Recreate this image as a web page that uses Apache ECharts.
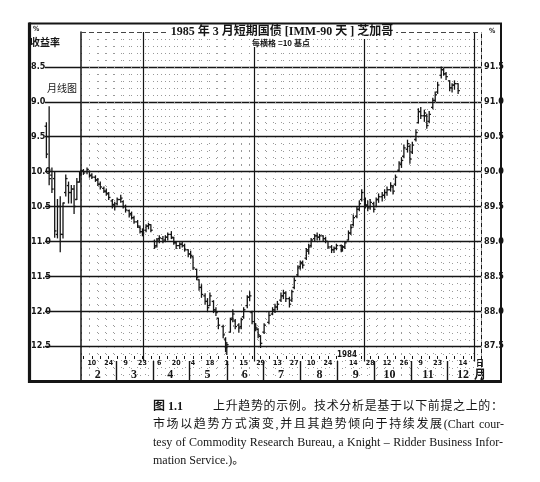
<!DOCTYPE html>
<html><head><meta charset="utf-8">
<script src="https://cdn.jsdelivr.net/npm/echarts@6/dist/echarts.min.js"></script>
<style>html,body{margin:0;padding:0;background:#fff}#c{width:540px;height:482px}</style>
</head><body><div id="c"></div>
<script>
// ---------- DATA (yield %, IMM index = 100 - yield) ----------
const monthlyLabels = ['1983-01','1983-02','1983-03','1983-04','1983-05','1983-06','1983-07','1983-08','1983-09','1983-10','1983-11','1983-12','1984-01'];
const monthlyOpen  = [9.35, 9.50, 10.05, 10.10, 10.90, 10.50, 10.90, 10.30, 10.20, 10.30, 10.25, 10.40, 10.15];
const monthlyLow   = [9.30, 9.07, 9.95, 10.00, 10.40, 10.36, 10.45, 10.05, 10.15, 10.20, 10.20, 10.10, 10.00];
const monthlyHigh  = [9.80, 10.19, 10.30, 10.94, 10.95, 11.15, 10.95, 10.35, 10.45, 10.45, 10.60, 10.40, 10.15];
const monthlyClose = [9.75, 10.10, 10.25, 10.85, 10.50, 10.90, 10.45, 10.10, 10.30, 10.25, 10.50, 10.15, 10.05];

const dailyDates = [
 '1984-02-01','1984-02-03','1984-02-06','1984-02-08','1984-02-10','1984-02-13','1984-02-15','1984-02-17','1984-02-20','1984-02-22','1984-02-24','1984-02-27','1984-02-29',
 '1984-03-02','1984-03-05','1984-03-07','1984-03-09','1984-03-12','1984-03-14','1984-03-16','1984-03-19','1984-03-21','1984-03-23','1984-03-26','1984-03-28','1984-03-30',
 '1984-04-02','1984-04-04','1984-04-06','1984-04-09','1984-04-11','1984-04-13','1984-04-16','1984-04-18','1984-04-20','1984-04-23','1984-04-25','1984-04-27','1984-04-30',
 '1984-05-02','1984-05-04','1984-05-07','1984-05-09','1984-05-11','1984-05-14','1984-05-16','1984-05-18','1984-05-21','1984-05-23','1984-05-25','1984-05-29','1984-05-31',
 '1984-06-01','1984-06-04','1984-06-06','1984-06-08','1984-06-11','1984-06-13','1984-06-15','1984-06-18','1984-06-20','1984-06-22','1984-06-25','1984-06-27','1984-06-29',
 '1984-07-02','1984-07-06','1984-07-09','1984-07-11','1984-07-13','1984-07-16','1984-07-18','1984-07-20','1984-07-23','1984-07-25','1984-07-27','1984-07-30',
 '1984-08-01','1984-08-03','1984-08-06','1984-08-08','1984-08-10','1984-08-13','1984-08-15','1984-08-17','1984-08-20','1984-08-22','1984-08-24','1984-08-27','1984-08-29','1984-08-31',
 '1984-09-04','1984-09-05','1984-09-07','1984-09-10','1984-09-12','1984-09-14','1984-09-17','1984-09-19','1984-09-21','1984-09-24','1984-09-26','1984-09-28',
 '1984-10-01','1984-10-03','1984-10-05','1984-10-08','1984-10-10','1984-10-12','1984-10-15','1984-10-17','1984-10-19','1984-10-22','1984-10-24','1984-10-26','1984-10-29','1984-10-31',
 '1984-11-02','1984-11-05','1984-11-07','1984-11-09','1984-11-12','1984-11-14','1984-11-16','1984-11-19','1984-11-21','1984-11-23','1984-11-26','1984-11-28','1984-11-30',
 '1984-12-03','1984-12-05','1984-12-07','1984-12-10'
];
const dailyOpen = [
 10.03,9.99,10.00,10.00,10.05,10.08,10.12,10.18,10.24,10.28,10.32,10.42,10.47,
 10.46,10.40,10.43,10.50,10.56,10.60,10.66,10.72,10.80,10.86,10.84,10.78,10.76,
 11.00,11.06,10.96,10.96,10.98,10.94,10.90,10.95,11.02,11.06,11.04,11.06,11.12,
 11.18,11.22,11.40,11.55,11.66,11.78,11.86,11.92,11.86,11.98,12.10,12.22,12.40,
 12.52,12.30,12.10,12.14,12.20,12.22,12.08,11.92,11.80,12.02,12.18,12.26,12.36,
 12.30,12.16,12.04,11.98,11.94,11.84,11.78,11.74,11.82,11.84,11.66,11.48,
 11.36,11.30,11.24,11.14,11.06,10.96,10.92,10.94,10.92,10.96,11.00,11.08,11.12,11.10,
 11.06,11.12,11.08,10.98,10.88,10.76,10.64,10.54,10.40,10.40,10.48,10.50,
 10.46,10.50,10.40,10.36,10.34,10.30,10.26,10.22,10.18,9.98,9.90,9.78,9.68,9.64,
 9.72,9.54,9.30,9.14,9.20,9.20,9.28,9.08,8.98,8.86,8.62,8.54,8.60,
 8.70,8.80,8.76,8.74
];
const dailyLow = [
 9.98,9.97,9.95,9.99,10.03,10.06,10.10,10.15,10.22,10.25,10.30,10.40,10.44,
 10.38,10.34,10.42,10.48,10.55,10.58,10.64,10.70,10.78,10.82,10.76,10.74,10.76,
 10.98,10.96,10.92,10.93,10.92,10.88,10.86,10.94,11.00,11.02,11.00,11.04,11.12,
 11.14,11.22,11.40,11.55,11.62,11.75,11.82,11.74,11.85,11.95,12.10,12.20,12.38,
 12.45,12.10,11.98,12.12,12.18,12.10,11.95,11.78,11.72,12.00,12.18,12.25,12.35,
 12.18,12.02,11.95,11.90,11.86,11.74,11.70,11.72,11.80,11.70,11.52,11.35,
 11.28,11.28,11.10,11.04,10.96,10.90,10.88,10.90,10.92,10.94,11.00,11.06,11.08,11.04,
 11.05,11.06,11.00,10.85,10.76,10.62,10.50,10.42,10.26,10.38,10.42,10.40,
 10.44,10.38,10.32,10.30,10.26,10.22,10.16,10.20,10.05,9.86,9.80,9.62,9.55,9.62,
 9.58,9.40,9.10,9.08,9.12,9.18,9.14,8.95,8.86,8.72,8.50,8.52,8.58,
 8.70,8.74,8.70,8.74
];
const dailyHigh = [
 10.05,10.04,10.03,10.08,10.10,10.14,10.20,10.25,10.30,10.34,10.40,10.52,10.55,
 10.48,10.44,10.52,10.58,10.65,10.68,10.74,10.80,10.88,10.92,10.86,10.82,10.86,
 11.10,11.08,11.02,11.02,11.00,10.98,10.96,11.04,11.10,11.10,11.08,11.14,11.22,
 11.24,11.40,11.55,11.70,11.80,11.90,12.00,11.92,12.02,12.06,12.25,12.38,12.58,
 12.62,12.30,12.15,12.25,12.30,12.25,12.10,11.95,11.85,12.18,12.28,12.38,12.52,
 12.32,12.18,12.05,12.02,11.98,11.86,11.82,11.86,11.94,11.86,11.68,11.50,
 11.40,11.38,11.26,11.18,11.08,11.00,10.98,10.98,11.00,11.02,11.10,11.16,11.16,11.12,
 11.15,11.14,11.10,10.98,10.90,10.78,10.66,10.56,10.42,10.52,10.56,10.54,
 10.58,10.50,10.44,10.42,10.38,10.34,10.28,10.32,10.20,10.00,9.94,9.80,9.72,9.88,
 9.74,9.56,9.30,9.24,9.28,9.38,9.30,9.10,9.00,8.88,8.66,8.62,8.68,
 8.84,8.86,8.82,8.88
];
const dailyClose = [
 9.99,10.02,9.97,10.06,10.08,10.12,10.18,10.22,10.28,10.31,10.37,10.48,10.50,
 10.40,10.38,10.50,10.55,10.62,10.66,10.72,10.78,10.86,10.88,10.78,10.76,10.84,
 11.08,10.98,10.95,11.00,10.94,10.90,10.94,11.02,11.06,11.04,11.06,11.12,11.18,
 11.20,11.38,11.52,11.66,11.76,11.86,11.95,11.78,11.98,12.02,12.20,12.34,12.52,
 12.48,12.12,12.04,12.22,12.24,12.12,11.98,11.80,11.78,12.15,12.24,12.34,12.46,
 12.20,12.06,11.98,11.94,11.90,11.78,11.74,11.82,11.90,11.72,11.56,11.38,
 11.32,11.34,11.12,11.08,10.98,10.92,10.94,10.92,10.96,11.00,11.08,11.12,11.10,11.06,
 11.12,11.08,11.02,10.88,10.80,10.66,10.54,10.46,10.30,10.48,10.52,10.44,
 10.54,10.40,10.36,10.34,10.30,10.26,10.20,10.28,10.08,9.88,9.84,9.66,9.60,9.82,
 9.62,9.44,9.14,9.20,9.16,9.34,9.18,8.98,8.90,8.76,8.54,8.60,8.64,
 8.80,8.76,8.74,8.84
];

// axis labels
const yieldTicks = [8.5, 9.0, 9.5, 10.0, 10.5, 11.0, 11.5, 12.0, 12.5];
const priceTicks = [87.5, 88.0, 88.5, 89.0, 89.5, 90.0, 90.5, 91.0, 91.5];
const dayLabelDates = ['1984-02-10','1984-02-24','1984-03-09','1984-03-23','1984-04-06','1984-04-20','1984-05-04','1984-05-18',
  '1984-06-01','1984-06-15','1984-06-29','1984-07-13','1984-07-27','1984-08-10','1984-08-24','1984-09-14','1984-09-28',
  '1984-10-12','1984-10-26','1984-11-09','1984-11-23','1984-12-14'];
const monthStarts = ['1984-03-01','1984-04-01','1984-05-01','1984-06-01','1984-07-01','1984-08-01','1984-09-01','1984-10-01','1984-11-01','1984-12-01'];
const monthLabelDates = ['1984-02-15','1984-03-16','1984-04-15','1984-05-16','1984-06-16','1984-07-16','1984-08-17','1984-09-16','1984-10-14','1984-11-15','1984-12-14'];
const paperLines = ['1984-03-24','1984-06-24','1984-09-23','1984-12-23'];
const xMin = '1984-02-01', xMax = '1984-12-29';

// ---------- build ----------
const P = s => { const p = s.split('-').map(Number); return new Date(p[0], p[1] - 1, p[2]).getTime(); };
const dailyRows = dailyDates.map((d, i) => [P(d), dailyOpen[i], dailyLow[i], dailyHigh[i], dailyClose[i]]);
const monthlyRows = monthlyLabels.map((m, i) => [m, monthlyOpen[i], monthlyLow[i], monthlyHigh[i], monthlyClose[i]]);
const fridays = [];
for (let t = P('1984-02-03'); t <= P('1984-12-21'); t += 7 * 864e5) fridays.push(t);

const INK = '#151515';
const NUMFONT = '"Liberation Sans Narrow","DejaVu Sans Condensed","Liberation Sans",sans-serif';
const SERIF = '"Liberation Serif","Noto Sans CJK SC",serif';
const CJK = '"Noto Sans CJK SC","Liberation Serif",sans-serif';

function ohlc(params, api) {
  const x = api.value(0);
  const o = api.coord([x, api.value(1)]);
  const a = api.coord([x, api.value(2)]);
  const b = api.coord([x, api.value(3)]);
  const c = api.coord([x, api.value(4)]);
  const w = 1.8, st = { stroke: INK, lineWidth: 1.3 };
  return { type: 'group', children: [
    { type: 'line', shape: { x1: a[0], y1: a[1] - 0.5, x2: b[0], y2: b[1] + 0.5 }, style: st },
    { type: 'line', shape: { x1: o[0] - w, y1: o[1], x2: o[0], y2: o[1] }, style: st },
    { type: 'line', shape: { x1: c[0], y1: c[1], x2: c[0] + w, y2: c[1] }, style: st }
  ]};
}

// caption layout helper (justify tokens between x0 and x1)
const mctx = document.createElement('canvas').getContext('2d');
function tw(t, font) { mctx.font = font; return mctx.measureText(t).width; }
function justifyLine(tokens, x0, x1, y, font) {
  const sp = tw(' ', font);
  const ws = tokens.map(k => tw(k.t, font));
  let total = ws.reduce((a, b) => a + b, 0) + tokens.reduce((a, k, i) => a + (i > 0 && k.s ? sp : 0), 0);
  const extra = (x1 - x0 - total) / (tokens.length - 1);
  const els = []; let x = x0;
  tokens.forEach((k, i) => {
    if (i > 0) x += extra + (k.s ? sp : 0);
    els.push({ type: 'text', x: x, y: y, silent: true, style: { text: k.t, font: font, fill: INK, verticalAlign: 'middle' } });
    x += ws[i];
  });
  return els;
}
function cjkTokens(str) {
  const out = []; let buf = ''; let space = false;
  for (const ch of str) {
    if (ch === ' ') { if (buf) { out.push({ t: buf, s: space }); buf = ''; } space = true; continue; }
    if (/[\u3000-\u9fff\uff00-\uffef]/.test(ch)) {
      if (buf) { out.push({ t: buf, s: space }); buf = ''; space = false; }
      out.push({ t: ch, s: space }); space = false;
    } else { if (!buf) { buf = ch; } else buf += ch; }
  }
  if (buf) out.push({ t: buf, s: space });
  return out;
}
const capFont = '12px ' + SERIF;
const caption = [].concat(
  [{ type: 'text', x: 153, y: 407, silent: true, style: { text: '图 1.1', font: 'bold 12px ' + SERIF, fill: INK, verticalAlign: 'middle' } }],
  justifyLine(cjkTokens('上升趋势的示例。技术分析是基于以下前提之上的：'), 213, 503, 407, capFont),
  justifyLine(cjkTokens('市场以趋势方式演变,并且其趋势倾向于持续发展(Chart cour-'), 153, 504, 425, capFont),
  justifyLine(cjkTokens('tesy of Commodity Research Bureau, a Knight – Ridder Business Infor-'), 153, 503, 443, capFont),
  [{ type: 'text', x: 153, y: 461, silent: true, style: { text: 'mation Service.)。', font: capFont, fill: INK, verticalAlign: 'middle' } }]
);

const paperMarks = paperLines.map(d => [{ coord: [P(d), 8.0] }, { coord: [P(d), 12.72] }]);
paperMarks.push([{ coord: [P(xMin), 8.0], lineStyle: { type: [5, 3], color: '#444', width: 1 } }, { coord: [P(xMax), 8.0] }]);

const chart = echarts.init(document.getElementById('c'), null, { renderer: 'canvas' });
chart.setOption({
  animation: false,
  backgroundColor: '#fff',
  grid: [
    { left: 81, right: 59, top: 32, bottom: 101, containLabel: false },
    { left: 45, right: 459, top: 32, bottom: 101, containLabel: false }
  ],
  xAxis: [
    { // day-of-month labels
      type: 'value', gridIndex: 0, min: P(xMin), max: P(xMax), position: 'bottom', offset: -25,
      axisLine: { show: false },
      axisTick: { show: true, length: 3, customValues: fridays, lineStyle: { color: INK, width: 1 } },
      axisLabel: { customValues: dayLabelDates.map(P), formatter: v => String(new Date(v).getDate()), margin: 4,
        fontSize: 7, fontWeight: 'bold', fontFamily: NUMFONT, color: INK, hideOverlap: false },
      splitLine: { show: false }
    },
    { // months
      type: 'value', gridIndex: 0, min: P(xMin), max: P(xMax), position: 'bottom', offset: 0,
      axisLine: { show: false },
      axisTick: { show: true, inside: true, length: 20, customValues: monthStarts.map(P), lineStyle: { color: INK, width: 1.4 } },
      axisLabel: { inside: true, customValues: monthLabelDates.map(P), formatter: v => String(new Date(v).getMonth() + 1), margin: 0,
        fontSize: 12, fontWeight: 'bold', fontFamily: SERIF, color: INK, hideOverlap: false },
      splitLine: { show: false }
    },
    { // weekly dotted paper grid
      type: 'value', gridIndex: 0, min: P(xMin), max: P(xMax), interval: 7 * 864e5, position: 'top',
      axisLine: { show: false }, axisTick: { show: false }, axisLabel: { show: false },
      splitLine: { show: true, lineStyle: { color: '#999', width: 1, type: [1, 6] } }
    },
    { type: 'category', gridIndex: 1, data: monthlyLabels, show: false, boundaryGap: true }
  ],
  yAxis: [
    { // yield, left
      type: 'value', gridIndex: 0, inverse: true, min: 8, max: 13, interval: 0.5, position: 'left',
      axisLine: { show: true, lineStyle: { color: INK, width: 1.5 } },
      axisTick: { show: true, length: 36, customValues: yieldTicks, lineStyle: { color: INK, width: 1.4 } },
      axisLabel: { customValues: yieldTicks, formatter: v => v.toFixed(1), margin: 50, align: 'left',
        fontSize: 9, fontWeight: 'bold', fontFamily: NUMFONT, color: INK },
      splitLine: { show: true, lineStyle: { color: INK, width: 1.4 } },
      minorTick: { show: false, splitNumber: 5 },
      minorSplitLine: { show: true, lineStyle: { color: '#999', width: 1, type: [1, 7] } }
    },
    { // IMM index, right
      type: 'value', gridIndex: 0, min: 87, max: 92, interval: 0.5, position: 'right',
      axisLine: { show: true, lineStyle: { color: INK, width: 1, type: [4, 3] } },
      axisTick: { show: false },
      axisLabel: { customValues: priceTicks, formatter: v => v.toFixed(1), margin: 3,
        fontSize: 9, fontWeight: 'bold', fontFamily: NUMFONT, color: INK },
      splitLine: { show: false }
    },
    { type: 'value', gridIndex: 1, inverse: true, min: 8, max: 13, show: false }
  ],
  series: [
    {
      name: 'daily', type: 'custom', xAxisIndex: 0, yAxisIndex: 0, renderItem: ohlc,
      dimensions: ['date', 'open', 'lowYield', 'highYield', 'close'],
      encode: { x: 0, y: [1, 2, 3, 4] }, data: dailyRows, silent: true,
      markLine: { silent: true, symbol: 'none', label: { show: false },
        lineStyle: { color: INK, width: 1.2, type: 'solid' }, data: paperMarks }
    },
    {
      name: 'monthly', type: 'custom', xAxisIndex: 3, yAxisIndex: 2, renderItem: ohlc,
      encode: { x: 0, y: [1, 2, 3, 4] }, data: monthlyRows, silent: true
    }
  ],
  graphic: [
    { type: 'line', shape: { x1: 29, y1: 23.5, x2: 502, y2: 23.5 }, style: { stroke: INK, lineWidth: 2 }, silent: true },
    { type: 'line', shape: { x1: 501, y1: 23, x2: 501, y2: 382 }, style: { stroke: INK, lineWidth: 2 }, silent: true },
    { type: 'line', shape: { x1: 29.5, y1: 22.5, x2: 29.5, y2: 383 }, style: { stroke: INK, lineWidth: 3.2 }, silent: true },
    { type: 'line', shape: { x1: 28, y1: 381.5, x2: 502, y2: 381.5 }, style: { stroke: INK, lineWidth: 3.2 }, silent: true },
    { type: 'text', x: 282, y: 32, silent: true, z: 100, style: { text: '1985 年 3 月短期国债 [IMM-90 天 ] 芝加哥', font: 'bold 12px ' + SERIF, fill: INK, align: 'center', verticalAlign: 'middle', backgroundColor: '#fff', padding: [1, 3] } },
    { type: 'text', x: 281, y: 43, silent: true, z: 100, style: { text: '每横格 =10 基点', font: 'bold 8px ' + CJK, fill: INK, align: 'center', verticalAlign: 'middle', backgroundColor: '#fff' } },
    { type: 'text', x: 33, y: 29, silent: true, style: { text: '%', font: 'bold 7px ' + NUMFONT, fill: INK, verticalAlign: 'middle' } },
    { type: 'text', x: 30, y: 42, silent: true, style: { text: '收益率', font: 'bold 10px ' + CJK, fill: INK, verticalAlign: 'middle' } },
    { type: 'text', x: 47, y: 88, silent: true, style: { text: '月线图', font: '10px ' + CJK, fill: INK, verticalAlign: 'middle' } },
    { type: 'text', x: 489, y: 31, silent: true, style: { text: '%', font: 'bold 7px ' + NUMFONT, fill: INK, verticalAlign: 'middle' } },
    { type: 'text', x: 347, y: 355, silent: true, z: 100, style: { text: '1984', font: 'bold 8px ' + NUMFONT, fill: INK, align: 'center', verticalAlign: 'middle', backgroundColor: '#fff' } },
    { type: 'text', x: 480, y: 363, silent: true, style: { text: '日', font: 'bold 8px ' + CJK, fill: INK, align: 'center', verticalAlign: 'middle' } },
    { type: 'text', x: 480, y: 374, silent: true, style: { text: '月', font: 'bold 12px ' + CJK, fill: INK, align: 'center', verticalAlign: 'middle' } }
  ].concat(caption)
});
</script></body></html>
